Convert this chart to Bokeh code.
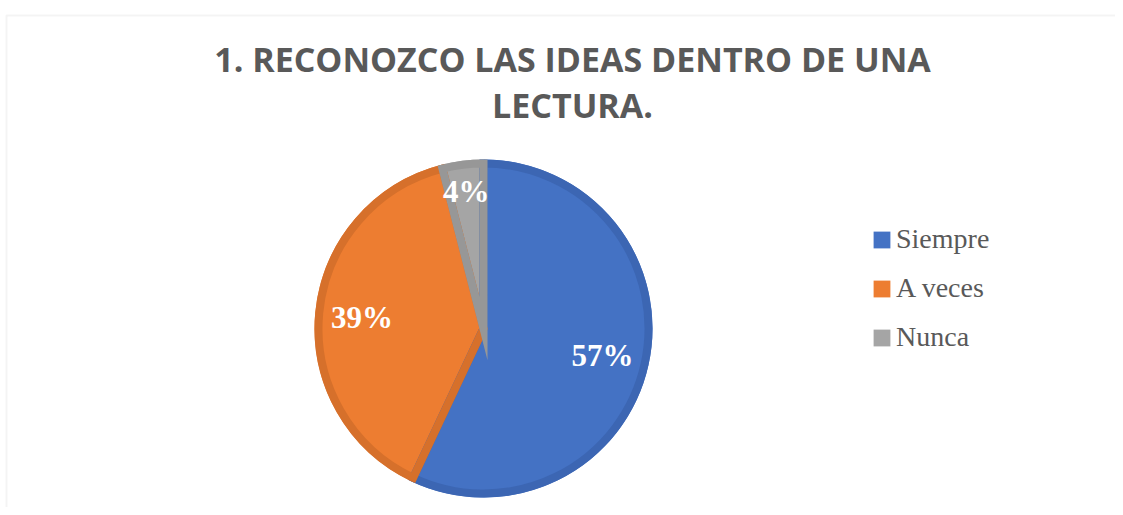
import math
from bokeh.plotting import figure
from bokeh.models import Range1d, Label, Legend, LegendItem, BoxAnnotation, ColumnDataSource
from bokeh.embed import file_html
from bokeh.resources import INLINE

# ---- data ----
categories = ["Siempre", "A veces", "Nunca"]
values = [57, 39, 4]
labels = ["57%", "39%", "4%"]
fill_colors = ["#4472C4", "#ED7D31", "#A5A5A5"]
edge_colors = ["#3C66B3", "#D6702B", "#979797"]
title_lines = ["1. RECONOZCO LAS IDEAS DENTRO DE UNA", "LECTURA."]

W, H = 1115, 507

def Y(ry):
    return H - ry

p = figure(width=W, height=H, output_backend="svg", toolbar_location=None,
           x_range=Range1d(4, W + 4), y_range=Range1d(0, H),
           min_border=0, outline_line_color=None)
p.axis.visible = False
p.grid.visible = False
p.background_fill_color = "white"

# chart frame
p.add_layout(BoxAnnotation(left=10, right=1300, top=Y(15), bottom=Y(700),
                           fill_alpha=0, line_color="#D9D9D9", line_width=2))

cx, cy, R = 487, Y(328), 169
band = 8

total = sum(values)
starts, ends, mids = [], [], []
cum = 0
for v in values:
    a0 = math.pi / 2 - 2 * math.pi * cum / total
    cum += v
    a1 = math.pi / 2 - 2 * math.pi * cum / total
    starts.append(a0)
    ends.append(a1)
    mids.append((a0 + a1) / 2)

src = ColumnDataSource(dict(cat=categories, val=values, start=starts, end=ends,
                            fill=fill_colors, edge=edge_colors))

fills = p.wedge(x=cx, y=cy, radius=R, start_angle="start", end_angle="end",
                direction="clock", fill_color="fill", line_color=None, source=src)
p.wedge(x=cx, y=cy, radius=R - band / 2, start_angle="start", end_angle="end",
        direction="clock", fill_alpha=0, line_color="edge", line_width=band,
        line_join="miter", source=src)

# data labels
label_r = [122, 122, 138]
for lab, m, lr in zip(labels, mids, label_r):
    p.add_layout(Label(x=cx + lr * math.cos(m), y=cy + lr * math.sin(m), text=lab,
                       text_align="center", text_baseline="middle",
                       text_font="Liberation Serif", text_font_style="bold",
                       text_font_size="31px", text_color="white"))

# title
for line, ty in zip(title_lines, [58, 104]):
    p.add_layout(Label(x=576, y=Y(ty), text=line, text_align="center",
                       text_baseline="middle", text_font="Open Sans",
                       text_font_style="bold", text_font_size="34px",
                       text_color="#595959"))

legend = Legend(items=[LegendItem(label=c, renderers=[fills], index=i)
                       for i, c in enumerate(categories)],
                location=(871, 154), orientation="vertical",
                label_text_font="Liberation Serif", label_text_font_size="28px",
                label_text_color="#595959", glyph_width=21, glyph_height=21,
                label_standoff=4, spacing=17, padding=0, margin=0,
                border_line_alpha=0, background_fill_alpha=0)
p.add_layout(legend, "center")

open("out.html", "w").write(file_html(p, INLINE))
